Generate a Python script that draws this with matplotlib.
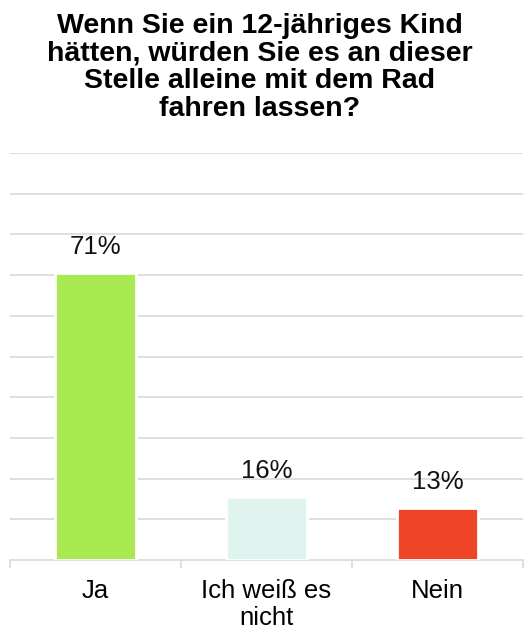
import numpy as np
import matplotlib
matplotlib.use("Agg")
import matplotlib.pyplot as plt

title = "Wenn Sie ein 12-jähriges Kind\nhätten, würden Sie es an dieser\nStelle alleine mit dem Rad\nfahren lassen?"
categories = ["Ja", "Ich weiß es\nnicht", "Nein"]
values = [70.6, 15.6, 12.7]
colors = ["#a9e952", "#dff4ee", "#f04427"]

plt.rcParams['font.family'] = ['Liberation Sans', 'DejaVu Sans']

fig = plt.figure(figsize=(5.24, 6.31), dpi=100)
ax = fig.add_axes([10 / 524, 71 / 631, 513 / 524, 407 / 631])

x = np.arange(len(categories))
bars = ax.bar(x, values, width=0.47, color=colors, edgecolor="white", linewidth=2, zorder=3)

for b, v in zip(bars, values):
	ax.annotate("{:.0f}%".format(v), (b.get_x() + b.get_width() / 2, v),
				xytext=(0, 10), textcoords="offset points",
				ha="center", va="bottom", fontsize=18.5, color="#111111")

ax.set_xlim(-0.5, 2.5)
ax.set_ylim(0, 100)
ax.set_yticks(np.arange(10, 101, 10))
ax.yaxis.grid(True, color="#d9d9d9", linewidth=1.2, zorder=0)
ax.tick_params(axis="y", length=0, labelleft=False)

ax.set_xticks(x)
ax.set_xticklabels(categories, fontsize=18.5, linespacing=1.12)
ax.tick_params(axis="x", which="major", length=0, pad=14)
ax.set_xticks([-0.5, 0.5, 1.5, 2.5], minor=True)
ax.tick_params(axis="x", which="minor", length=6, width=1.2, color="#d9d9d9")

for s in ["top", "right", "left"]:
	ax.spines[s].set_visible(False)
ax.spines["bottom"].set_color("#d9d9d9")
ax.spines["bottom"].set_linewidth(1.2)

fig.text(0.495, 0.979, title, ha="center", va="top", fontsize=20.5,
		 fontweight="bold", linespacing=1.08)

fig.savefig("out.png", dpi=100)
